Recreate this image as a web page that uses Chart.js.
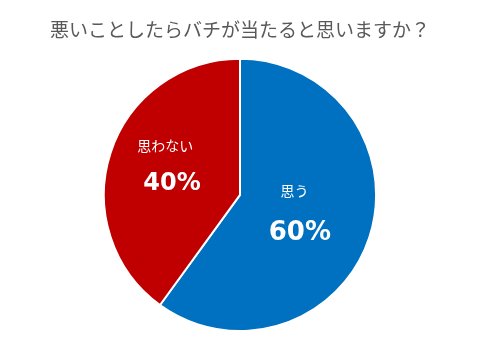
<!DOCTYPE html>
<html><head><meta charset="utf-8">
<script src="https://cdn.jsdelivr.net/npm/chart.js@4/dist/chart.umd.min.js"></script>
<style>html,body{margin:0;padding:0;background:#fff}#wrap{width:480px;height:357px}</style>
</head><body><div id="wrap"><canvas id="c" width="480" height="357"></canvas></div>
<script>
const titleText = '悪いことしたらバチが当たると思いますか？';
const categories = ['思う', '思わない'];
const values = [60, 40];
const colors = ['#0070C0', '#C00000'];
// label placement relative to pie center, as fraction of radius [dx, dy] (name line, percent line)
const labelOffsets = [[0.40, -0.03, 0.44, 0.28], [-0.55, -0.36, -0.50, -0.08]];
const pctFonts = ['bold 26px "DejaVu Sans"', 'bold 24px "DejaVu Sans"'];

const labelPlugin = {
  id: 'sliceLabels',
  afterDatasetsDraw(chart) {
    const ctx = chart.ctx;
    const meta = chart.getDatasetMeta(0);
    const total = values.reduce((a, b) => a + b, 0);
    meta.data.forEach((arc, i) => {
      const r = arc.outerRadius;
      const o = labelOffsets[i];
      ctx.save();
      ctx.fillStyle = '#fff';
      ctx.textAlign = 'center';
      ctx.textBaseline = 'middle';
      ctx.font = '14px "Noto Sans CJK JP"';
      ctx.fillText(categories[i], arc.x + o[0] * r, arc.y + o[1] * r);
      ctx.font = pctFonts[i];
      ctx.fillText(Math.round(values[i] / total * 100) + '%', arc.x + o[2] * r, arc.y + o[3] * r);
      ctx.restore();
    });
  }
};

new Chart(document.getElementById('c'), {
  type: 'pie',
  data: {
    labels: categories,
    datasets: [{ data: values, backgroundColor: colors, borderColor: '#fff', borderWidth: 2 }]
  },
  options: {
    responsive: false,
    animation: false,
    layout: { padding: { top: 0, bottom: 25, left: 0, right: 0 } },
    plugins: {
      legend: { display: false },
      tooltip: { enabled: false },
      title: {
        display: true,
        text: titleText,
        color: '#595959',
        font: { family: '"Noto Sans CJK JP"', size: 19, weight: 'normal' },
        padding: { top: 18, bottom: 17 }
      }
    }
  },
  plugins: [labelPlugin]
});
</script></body></html>
